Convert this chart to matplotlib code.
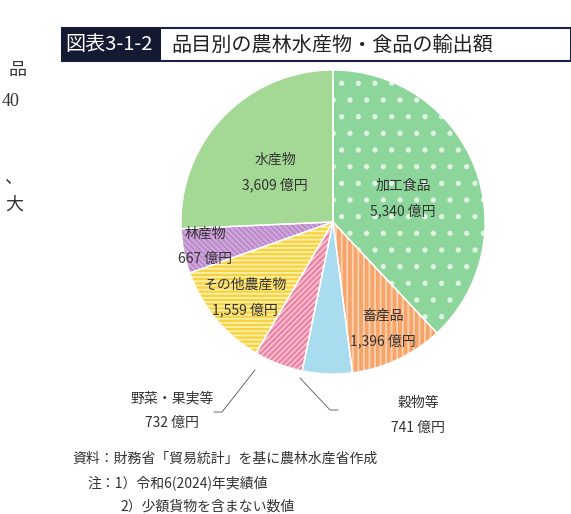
import matplotlib
matplotlib.use("Agg")
import matplotlib.pyplot as plt
from matplotlib.patches import Rectangle, Wedge

plt.rcParams['font.family'] = ['Noto Sans CJK JP', 'DejaVu Sans']
plt.rcParams['hatch.linewidth'] = 1.4

categories = ['加工食品', '畜産品', '穀物等', '野菜・果実等', 'その他農産物', '林産物', '水産物']
values = [5340, 1396, 741, 732, 1559, 667, 3609]
value_labels = ['5,340 億円', '1,396 億円', '741 億円', '732 億円', '1,559 億円', '667 億円', '3,609 億円']
faces = ['#8dd69b', '#f6a469', '#a9dcef', '#ec7d9f', '#f7d23c', '#d3a7df', '#a4d995']
hatch_cols = ['#dff3e3', '#fbd0ad', '#a9dcef', '#f9c0d2', '#fdeea8', '#b88bc8', '#a4d995']
hatches = ['.', '|||', None, '//////', '----', '\\\\\\\\\\\\', None]

W, H = 571, 514
fig = plt.figure(figsize=(W/100, H/100), dpi=100)

def px(x, y):
    return x / W, 1 - y / H

cx, cy, r = 333, 222, 152
ax = fig.add_axes([(cx - r)/W, (H - cy - r)/H, 2*r/W, 2*r/H])
wedges, _ = ax.pie(values, colors=faces, startangle=90, counterclock=False,
                   wedgeprops=dict(linewidth=0))
for w, hc, h in zip(wedges, hatch_cols, hatches):
    if h:
        w.set_hatch(h)
        w.set_edgecolor(hc)
for w in wedges:
    ax.add_patch(Wedge(w.center, w.r, w.theta1, w.theta2, facecolor='none',
                       edgecolor='white', linewidth=1.0))
ax.set_xlim(-1, 1); ax.set_ylim(-1, 1); ax.set_aspect('equal'); ax.axis('off')

fs = 10
inside = {'水産物': (275, 160), '加工食品': (403, 186), '林産物': (205, 234),
          'その他農産物': (245, 285), '畜産品': (383, 316),
          '野菜・果実等': (172, 398), '穀物等': (418, 403)}
for c, v in zip(categories, value_labels):
    x, y = inside[c]
    fig.text(*px(x, y), c, ha='center', va='center', fontsize=fs, color='#333333')
    fig.text(*px(x, y + 25), v, ha='center', va='center', fontsize=fs, color='#333333')

for xs, ys in [([255, 222, 214], [370, 412, 412]), ([300, 330, 338], [378, 410, 410])]:
    fig.add_artist(plt.Line2D([x/W for x in xs], [1 - y/H for y in ys],
                              color='#555555', linewidth=0.6))

fig.add_artist(Rectangle(px(62, 61), (571-62)/W, 33/H, facecolor='white',
                         edgecolor='#1c2144', linewidth=1.5, transform=fig.transFigure))
fig.add_artist(Rectangle(px(62, 61), (161-62)/W, 33/H, facecolor='#151a33',
                         edgecolor='none', transform=fig.transFigure))
fig.text(*px(65, 45), '図表3-1-2', color='white', fontsize=14.5, va='center', ha='left')
fig.text(*px(171, 45), '品目別の農林水産物・食品の輸出額', color='#222222', fontsize=14.5,
         va='center', ha='left')

for t, x, y in [('品', 8, 70), ('40', 2, 101), ('、', 4, 178), ('大', 5, 205)]:
    fig.text(*px(x, y), t, fontsize=13, va='center', ha='left', color='#333333',
             family=['Liberation Serif', 'Noto Sans CJK JP'])

fig.text(*px(72, 459), '資料：財務省「貿易統計」を基に農林水産省作成', fontsize=10, va='center', color='#333333')
fig.text(*px(87, 483), '注：1）令和6(2024)年実績値', fontsize=10, va='center', color='#333333')
fig.text(*px(120, 507), '2）少額貨物を含まない数値', fontsize=10, va='center', color='#333333')

fig.savefig('out.png', dpi=100)
